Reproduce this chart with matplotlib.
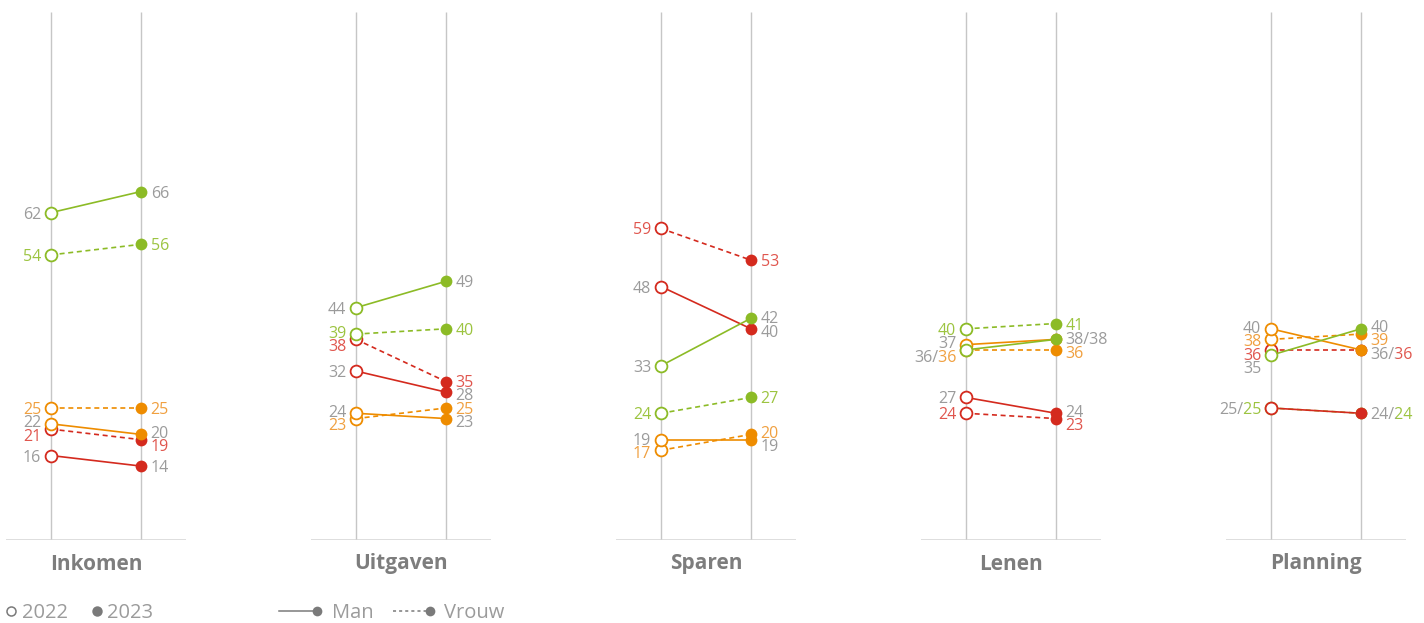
import matplotlib
matplotlib.use("Agg")
import matplotlib.pyplot as plt
from matplotlib.lines import Line2D
from matplotlib.transforms import Bbox

plt.rcParams['font.family'] = ['Open Sans', 'DejaVu Sans']

# data: percentages per category, 2022 -> 2023
categories = ["Inkomen", "Uitgaven", "Sparen", "Lenen", "Planning"]

groen_man_2022 = [62, 44, 33, 36, 35]
groen_man_2023 = [66, 49, 42, 38, 40]
groen_vrouw_2022 = [54, 39, 24, 40, 25]
groen_vrouw_2023 = [56, 40, 27, 41, 24]
oranje_man_2022 = [22, 24, 19, 37, 40]
oranje_man_2023 = [20, 23, 19, 38, 36]
oranje_vrouw_2022 = [25, 23, 17, 36, 38]
oranje_vrouw_2023 = [25, 25, 20, 36, 39]
rood_man_2022 = [16, 32, 48, 27, 25]
rood_man_2023 = [14, 28, 40, 24, 24]
rood_vrouw_2022 = [21, 38, 59, 24, 36]
rood_vrouw_2023 = [19, 30, 53, 23, 36]

# the picture shows the point at 30 but prints 35
label_override = {("Uitgaven", "rood", "vrouw", 1): "35"}

kleur = {"groen": "#8cbb26", "oranje": "#ee8c00", "rood": "#d42a1e"}
tekstkleur = {"groen": "#9cc440", "oranje": "#f0a040", "rood": "#e0564e"}
grijs = "#9b9b9b"

# drawing order: vrouw first, man on top; red, orange, green
series = [
    ("rood", "vrouw", rood_vrouw_2022, rood_vrouw_2023),
    ("oranje", "vrouw", oranje_vrouw_2022, oranje_vrouw_2023),
    ("groen", "vrouw", groen_vrouw_2022, groen_vrouw_2023),
    ("rood", "man", rood_man_2022, rood_man_2023),
    ("oranje", "man", oranje_man_2022, oranje_man_2023),
    ("groen", "man", groen_man_2022, groen_man_2023),
]

W, H = 1424, 623
fig = plt.figure(figsize=(W / 100, H / 100), dpi=100)
renderer = fig.canvas.get_renderer()

px_per_unit = 528 / 100.0
gap = 13.5 / px_per_unit
label_size = 11.5


def breedte(s):
    t = fig.text(0, 0, s, fontsize=label_size)
    w = t.get_window_extent(renderer).width
    t.remove()
    return w


def spread(items):
    # push label y-positions apart so they don't overlap (mostly downwards)
    items.sort(key=lambda d: -d["y"])
    for _ in range(300):
        moved = False
        for a, b in zip(items[:-1], items[1:]):
            d = a["y"] - b["y"]
            if d < gap - 1e-6:
                shift = gap - d
                a["y"] += 0.3 * shift
                b["y"] -= 0.7 * shift
                moved = True
        if not moved:
            break
    return items


for ci, cat in enumerate(categories):
    left = (6 + 305 * ci) / W
    ax = fig.add_axes([left, (H - 540) / H, 180 / W, 528 / H])
    ax.set_xlim(-0.5, 1.5)
    ax.set_ylim(0, 100)
    ax.axis("off")
    ax.vlines([0, 1], 0, 100, color="#c6c6c6", lw=1, zorder=1)
    ax.axhline(0, color="#d4d4d4", lw=1.8, zorder=1)

    labels = {0: {}, 1: {}}
    for naam, geslacht, v22, v23 in series:
        c = kleur[naam]
        ls = "-" if geslacht == "man" else (0, (3, 2.2))
        y = [v22[ci], v23[ci]]
        ax.plot([0, 1], y, color=c, lw=1.2, ls=ls, zorder=2)
        ax.plot(0, y[0], "o", ms=8.5, mfc="white", mec=c, mew=1.3, zorder=3)
        ax.plot(1, y[1], "o", ms=8.5, color=c, mew=0, zorder=3)
        for jaar in (0, 1):
            txt = label_override.get((cat, naam, geslacht, jaar), str(y[jaar]))
            tc = grijs if geslacht == "man" else tekstkleur[naam]
            d = labels[jaar].setdefault(txt, {"y": y[jaar], "txt": txt, "cols": []})
            d["cols"].append((geslacht, tc))

    for jaar in (0, 1):
        items = list(labels[jaar].values())
        for d in spread(items):
            # man first, then vrouw
            cols = [c for g, c in sorted(d["cols"], key=lambda p: p[0] != "man")]
            dx = -7 if jaar == 0 else 7
            kw = dict(xy=(jaar, d["y"]), xytext=(dx, 0), textcoords="offset points",
                      ha="right" if jaar == 0 else "left",
                      va="center_baseline", fontsize=label_size,
                      annotation_clip=False)
            if len(cols) == 1:
                ax.annotate(d["txt"], color=cols[0], **kw)
                continue
            # two values on one spot: "a/b", same string twice, each clipped to its half
            first = d["txt"] + "/"
            full = first + d["txt"]
            ta = ax.annotate(full, color=cols[0], **kw)
            tb = ax.annotate(full, color=cols[1], **kw)
            bb = ta.get_window_extent(renderer)
            grens = bb.x0 + breedte(first) + 1
            ta.set_clip_box(Bbox([[bb.x0 - 50, bb.y0 - 50], [grens, bb.y1 + 50]]))
            tb.set_clip_box(Bbox([[grens, bb.y0 - 50], [bb.x1 + 50, bb.y1 + 50]]))
            ta.set_clip_on(True)
            tb.set_clip_on(True)

    ax.text(0.5, -24 / 528, cat, transform=ax.transAxes, ha="center", va="center",
            fontsize=15, fontweight="bold", color="#7d7d7d")

# legend
lax = fig.add_axes([0, 0, 1, 1], facecolor="none")
lax.set_xlim(0, W)
lax.set_ylim(H, 0)
lax.axis("off")
ly = 611
lg = "#7a7a7a"
lax.add_line(Line2D([11], [ly], marker="o", ms=6.5, mfc="white", mec=lg, mew=1.1, ls="none"))
lax.text(22, ly, "2022", fontsize=14.5, color=grijs, va="center_baseline")
lax.add_line(Line2D([97], [ly], marker="o", ms=7.5, color=lg, mew=0, ls="none"))
lax.text(107, ly, "2023", fontsize=14.5, color=grijs, va="center_baseline")
lax.add_line(Line2D([279, 317], [ly, ly], color=lg, lw=1.1))
lax.add_line(Line2D([317], [ly], marker="o", ms=7, color=lg, mew=0, ls="none"))
lax.text(332, ly, "Man", fontsize=14.5, color=grijs, va="center_baseline")
lax.add_line(Line2D([393, 430], [ly, ly], color=lg, lw=1.1, ls=(0, (2, 2))))
lax.add_line(Line2D([430], [ly], marker="o", ms=7, color=lg, mew=0, ls="none"))
lax.text(444, ly, "Vrouw", fontsize=14.5, color=grijs, va="center_baseline")

fig.savefig("out.png", dpi=100, facecolor="white")
